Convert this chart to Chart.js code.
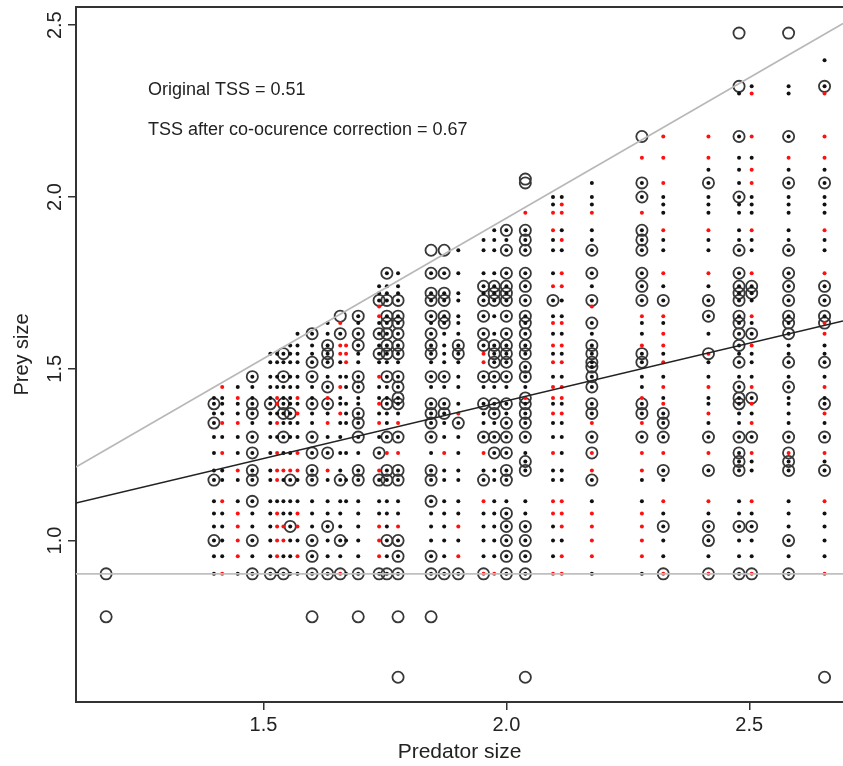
<!DOCTYPE html>
<html>
<head>
<meta charset="utf-8">
<script src="https://cdn.jsdelivr.net/npm/chart.js@4"></script>
<style>
  html, body { margin: 0; padding: 0; background: #fff; }
  canvas { display: block; }
</style>
</head>
<body>
<canvas id="tssChart" width="843" height="766"></canvas>
<script>
// log10 prey sizes used as rows (index 0 = bottom)
const preyLevels = [
    0.903, 0.954, 1.000, 1.041, 1.079, 1.114, 1.176, 1.204, 1.230, 1.255,
    1.301, 1.342, 1.370, 1.398, 1.415, 1.447, 1.477, 1.505, 1.519, 1.544,
    1.568, 1.602, 1.633, 1.653, 1.681, 1.699, 1.720, 1.740, 1.778, 1.813,
    1.845, 1.875, 1.903, 1.929, 1.954, 1.978, 2.000, 2.041, 2.079, 2.114,
    2.176, 2.279, 2.301, 2.322, 2.398, 2.477
];

// log10 predator sizes (one column of marks each)
const predatorSizes = [
    1.398, 1.415, 1.447, 1.477, 1.514, 1.528, 1.541, 1.555, 1.570, 1.600,
    1.632, 1.658, 1.670, 1.695, 1.738, 1.754, 1.777, 1.845, 1.872, 1.901,
    1.953, 1.975, 2.000, 2.039, 2.096, 2.114, 2.176, 2.279, 2.323, 2.416,
    2.479, 2.505, 2.581, 2.655
];

// one code per prey level: '.' black dot, 'r' red dot, 'o' ring + black dot,
// 'q' ring + red dot, 'O' empty ring, '-' nothing
const columnMarks = [
    "..o...o.-. .o.o.----- ---------- ---------- ------",
    "r....r..-r .r...r---- ---------- ---------- ------",
    ".rrrr..r-. .r..r.---- ---------- ---------- ------",
    "o.o..ooo-o o.oo..o--- ---------- ---------- ------",
    "o.......-. ...o...-.. ---------- ---------- ------",
    ".rrrr.rr-r .r.rr..-.. ---------- ---------- ------",
    "o.rr...r-. o.oo..o-.o ---------- ---------- ------",
    "...o..or-. ..o....-.. .--------- ---------- ------",
    ".r.rr..r-r ..r.r..-.. ..-------- ---------- ------",
    "ooo...oo-o o..o..o-o. .o-------- ---------- ------",
    "o..o...r-o .r.oro.-oo o..------- ---------- ------",
    "q.o...o.-. ..r..r.-.r rorO------ ---------- ------",
    ".-.--..--. -...-..-rr r--------- ---------- ------",
    "o.....oo-. ooo..oo-.. oo.o------ ---------- ------",
    "orrr..or-o .r.r..r-.o .o.rro..-- ---------- ------",
    "o.o...oo-r o..o..o-.o oooo-o..o- ---------- ------",
    "ooor..oo-r or.oooo-.o oooo-o...- ---------- ------",
    "oo...ooo-. oooo-.o-.o oo.o-oo-o- O--------- ------",
    "o.......-r ..oo-.o-.. ..oo-oo-o- O--------- ------",
    "or.r....-. .or.-..-.o o...-..-.- .--------- ------",
    "q....ro.-r o..o-.o-rr oo-o-o.o.- ..-------- ------",
    "r.......-o o.oo-.o-oo o.-.-ooo.- ...------- ------",
    "ooooo.oo-o oo.o-.o-oo oo-o-oooo- o.o------- ------",
    "oooo..-oo. ooooq.oo-o oooo-o-oo- ooo-r--O-- ------",
    "r...rr..-r ..r.rr.-r. r.r.-o-r.- ..r-r..--- ------",
    "rr.rrr..-. ..r.rr.-r. r.r.-.-rr- .r.-rr.--- ------",
    ".rrrr.or-q oroo-ooooo o.o-ro-.o- o..-r...-- ------",
    ".rrrr..r-r oroor..-oo r..r-o-oo- ooo-r-oo-r O-----",
    "q..o.r.o-r ooor.r.-r. rr.r-o-.r- ..r-...r-r r-----",
    "q.oo.r-o-r o.r..r.-.q -.-o-o-.r- ..r-...o.r r-----",
    "o..o..-ooo o..ooo.-o. oooo-oooo- o..-..o... o-.O-O",
    "q..o.r-..r or.ror.-.. ro.r-.oor- ..r-...rr. r-r.--",
    "o.o...-ooq o....o.-o. .ooo-o-oo- o..-...o.r o-..-O",
    "r....r-o.r o.ro.r.-o. .rqo-o-or- ..r-...o.r r-ro.-"
];

// isolated empty rings outside the main grid
const loneRingX = [1.176, 1.176, 1.600, 1.695, 1.777, 1.845, 1.777, 2.039, 2.655, 2.039];
const loneRingY = [0.903, 0.778, 0.778, 0.778, 0.778, 0.778, 0.602, 0.602, 0.602, 2.052];

const xTicks = [1.5, 2.0, 2.5];
const yTicks = [1.0, 1.5, 2.0, 2.5];

// reference lines (ends at the axis limits)
const lineX = [1.114, 2.693];
const upperLineY = [1.214, 2.505];
const fitLineY = [1.109, 1.639];
const floorLineY = [0.903, 0.903];

const notes = ['Original TSS = 0.51', 'TSS after co-ocurence correction = 0.67'];
const noteX = 1.262;
const noteY = [2.312, 2.196];

const FONT = "'Liberation Sans', Arial, sans-serif";

const blackDots = [];
const redDots = [];
const rings = [];
columnMarks.forEach((code, i) => {
    const marks = code.replace(/\s/g, '');
    for (let j = 0; j < marks.length; j++) {
        const p = { x: predatorSizes[i], y: preyLevels[j] };
        const c = marks[j];
        if (c === '.' || c === 'o') blackDots.push(p);
        if (c === 'r' || c === 'q') redDots.push(p);
        if (c === 'o' || c === 'q' || c === 'O') rings.push(p);
    }
});
loneRingX.forEach((x, i) => rings.push({ x, y: loneRingY[i] }));

const toPoints = (xs, ys) => xs.map((x, i) => ({ x, y: ys[i] }));

// frame top, rotated y tick labels and the two notes
const extras = {
    id: 'extras',
    afterDraw(chart) {
        const { ctx, chartArea, scales } = chart;
        ctx.save();
        ctx.strokeStyle = '#333';
        ctx.lineWidth = 2;
        ctx.beginPath();
        ctx.moveTo(chartArea.left - 1, chartArea.top);
        ctx.lineTo(chartArea.right, chartArea.top);
        ctx.stroke();

        ctx.fillStyle = '#222';
        ctx.font = '20px ' + FONT;
        ctx.textAlign = 'center';
        ctx.textBaseline = 'middle';
        yTicks.forEach(v => {
            ctx.save();
            ctx.translate(55, scales.y.getPixelForValue(v));
            ctx.rotate(-Math.PI / 2);
            ctx.fillText(v.toFixed(1), 0, 0);
            ctx.restore();
        });

        ctx.font = '18px ' + FONT;
        ctx.textAlign = 'left';
        notes.forEach((t, i) => {
            ctx.fillText(t, scales.x.getPixelForValue(noteX), scales.y.getPixelForValue(noteY[i]));
        });
        ctx.restore();
    }
};

new Chart(document.getElementById('tssChart'), {
    type: 'scatter',
    data: {
        datasets: [
            {
                label: 'fit',
                data: toPoints(lineX, fitLineY),
                showLine: true,
                borderColor: '#222',
                borderWidth: 1.6,
                pointRadius: 0
            },
            {
                label: 'upper',
                data: toPoints(lineX, upperLineY),
                showLine: true,
                borderColor: '#b8b8b8',
                borderWidth: 1.6,
                pointRadius: 0
            },
            {
                label: 'floor',
                data: toPoints(lineX, floorLineY),
                showLine: true,
                borderColor: '#bfbfbf',
                borderWidth: 1.6,
                pointRadius: 0
            },
            {
                label: 'black',
                data: blackDots,
                pointRadius: 2,
                pointBackgroundColor: '#111',
                pointBorderWidth: 0
            },
            {
                label: 'red',
                data: redDots,
                pointRadius: 2,
                pointBackgroundColor: '#ff1010',
                pointBorderWidth: 0
            },
            {
                label: 'rings',
                data: rings,
                pointRadius: 5.6,
                pointBackgroundColor: 'rgba(0,0,0,0)',
                pointBorderColor: '#383838',
                pointBorderWidth: 1.8
            }
        ]
    },
    options: {
        responsive: false,
        animation: false,
        layout: { autoPadding: false, padding: { top: 7, right: 0, left: 0, bottom: 0 } },
        plugins: { legend: { display: false }, tooltip: { enabled: false } },
        scales: {
            x: {
                type: 'linear',
                min: lineX[0],
                max: lineX[1],
                afterBuildTicks: s => { s.ticks = xTicks.map(v => ({ value: v })); },
                afterFit: s => {
                    s.height = 64;
                    s.paddingLeft = 0;
                    s.paddingRight = 0;
                },
                ticks: {
                    callback: v => v.toFixed(1),
                    color: '#222',
                    font: { family: FONT, size: 20 },
                    padding: 3,
                    maxRotation: 0
                },
                grid: { drawOnChartArea: false, tickLength: 8, color: '#333', lineWidth: 1.5 },
                border: { color: '#333', width: 2 },
                title: {
                    display: true,
                    text: 'Predator size',
                    color: '#222',
                    font: { family: FONT, size: 21 },
                    padding: { bottom: 1 }
                }
            },
            y: {
                type: 'linear',
                min: 0.530,
                max: 2.553,
                afterBuildTicks: s => { s.ticks = yTicks.map(v => ({ value: v })); },
                afterFit: s => {
                    s.width = 76;
                    s.paddingTop = 0;
                    s.paddingBottom = 0;
                },
                ticks: { display: false },
                grid: { drawOnChartArea: false, tickLength: 8, color: '#333', lineWidth: 1.5 },
                border: { color: '#333', width: 2 },
                title: {
                    display: true,
                    text: 'Prey size',
                    color: '#222',
                    font: { family: FONT, size: 20 },
                    padding: { top: 10 }
                }
            }
        }
    },
    plugins: [extras]
});
</script>
</body>
</html>
